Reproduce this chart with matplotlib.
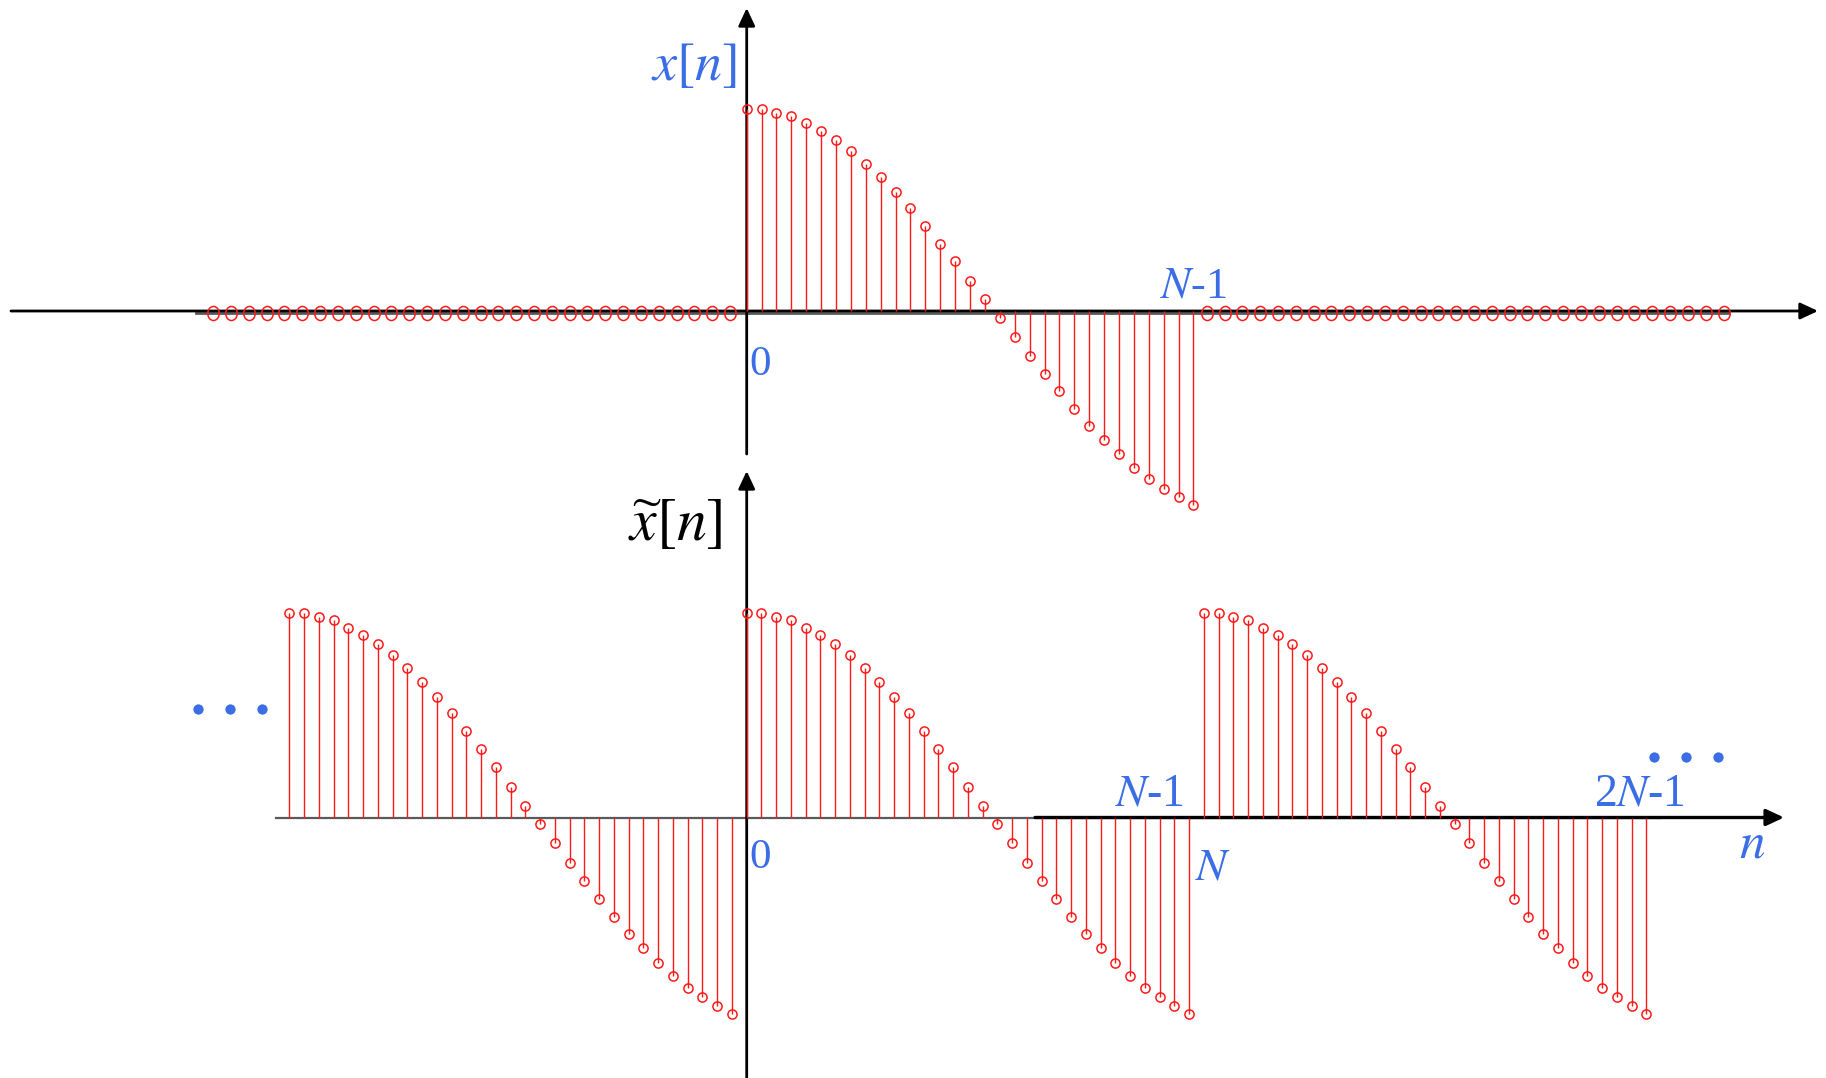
import numpy as np
import matplotlib
matplotlib.use("Agg")
import matplotlib.pyplot as plt
from matplotlib.transforms import blended_transform_factory, offset_copy, Affine2D
from matplotlib.markers import MarkerStyle

# ---- signal data -------------------------------------------------------
N = 31
n_main = np.arange(N)                       # n = 0 .. N-1
x_main = [1.000, 1.000, 0.982, 0.965, 0.929, 0.893, 0.847, 0.794, 0.729,
          0.663, 0.587, 0.510, 0.421, 0.333, 0.246, 0.150, 0.058, -0.033,
          -0.127, -0.221, -0.310, -0.398, -0.487, -0.568, -0.640, -0.710,
          -0.776, -0.833, -0.880, -0.922, -0.959]
n_zero_left = np.arange(-30, 0)             # zero samples before the window
n_zero_right = np.arange(31, 61)            # zero samples after the window
zero_vals = np.zeros(30)

# periodic extension over n = -N .. 2N-1
n_periodic = np.arange(-N, 2 * N)
x_periodic = np.tile(x_main, 3)

# text
lbl_top = r"$x[n]$"
lbl_bottom = r"$\widetilde{x}[n]$"
lbl_zero = "0"
lbl_nm1 = r"$N$-1"
lbl_n = r"$N$"
lbl_2nm1 = r"2$N$-1"
lbl_axis = r"$n$"

# ---- style ---------------------------------------------------------------
RED = "#ff1a1a"
BLUE = "#3a6de6"
GRAY = "#5a5a5a"

plt.rcParams["font.family"] = ["Liberation Serif", "DejaVu Serif"]
plt.rcParams["mathtext.fontset"] = "stix"

W, H = 1826, 1078
fig = plt.figure(figsize=(W / 100, H / 100), dpi=100)


def canvas_axes(x0, dx, y0, dy):
    """Full-figure axes where n=0 sits at pixel column x0 (step dx) and
    value 0 sits at pixel row y0 (value 1 is dy pixels higher)."""
    ax = fig.add_axes([0, 0, 1, 1])
    ax.set_xlim(-x0 / dx, (W - x0) / dx)
    ax.set_ylim(-(H - y0) / dy, y0 / dy)
    ax.set_axis_off()
    return ax


def stems(ax, n, v, ms=6.6, marker="o"):
    ml, sl, bl = ax.stem(n, v, linefmt="-", markerfmt="o", basefmt=" ")
    sl.set_color(RED)
    sl.set_linewidth(1.0)
    sl.set_zorder(3)
    ml.set_marker(marker)
    ml.set_markerfacecolor("none")
    ml.set_markeredgecolor(RED)
    ml.set_markersize(ms)
    ml.set_markeredgewidth(1.1)
    ml.set_zorder(4)
    bl.set_visible(False)


ARROW = dict(arrowstyle="-|>,head_length=0.6,head_width=0.28",
             mutation_scale=18, color="black", shrinkA=0, shrinkB=0)


def hx(px):
    return px / W


def vy(px):
    return 1 - px / H


# ---- top panel: finite-length x[n] --------------------------------------
ax1 = canvas_axes(746.7, 14.89, 311, 202)
hb1 = blended_transform_factory(ax1.transAxes, ax1.transData)
vb1 = blended_transform_factory(ax1.transData, ax1.transAxes)

ax1.plot([hx(196), hx(1729)], [0, 0], color=GRAY, lw=2.0, zorder=1,
         transform=offset_copy(hb1, fig, y=-1.5, units="dots"))
ax1.annotate("", xy=(hx(1818), 0), xytext=(hx(11), 0),
             xycoords=hb1, textcoords=hb1,
             arrowprops=dict(ARROW, lw=2.0), zorder=2)
ax1.annotate("", xy=(0, vy(8)), xytext=(0, vy(454)),
             xycoords=vb1, textcoords=vb1,
             arrowprops=dict(ARROW, lw=2.0), zorder=2)
stems(ax1, n_main, x_main)

# zero runs drawn with their own, slightly wider sample spacing
ell = MarkerStyle("o", transform=Affine2D().scale(0.9, 1.1))
axL = canvas_axes(747.8, 17.82, 313, 202)
stems(axL, n_zero_left, zero_vals, ms=9.2, marker=ell)
axR = canvas_axes(654.3, 17.82, 313, 202)
stems(axR, n_zero_right, zero_vals, ms=9.2, marker=ell)

# ---- bottom panel: periodic extension ------------------------------------
ax2 = canvas_axes(746.7, 14.75, 817.5, 204.5)
hb2 = blended_transform_factory(ax2.transAxes, ax2.transData)
vb2 = blended_transform_factory(ax2.transData, ax2.transAxes)

ax2.plot([hx(276), hx(1660)], [0, 0], color=GRAY, lw=1.6, zorder=1,
         transform=hb2)
ax2.annotate("", xy=(hx(1784), 0), xytext=(hx(1035), 0),
             xycoords=hb2, textcoords=hb2,
             arrowprops=dict(ARROW, lw=2.4), zorder=2)
ax2.annotate("", xy=(0, vy(471)), xytext=(0, vy(1078)),
             xycoords=vb2, textcoords=vb2,
             arrowprops=dict(ARROW, lw=2.0), zorder=2)
stems(ax2, n_periodic, x_periodic)

# continuation dots
for xs, y in (([198, 230, 262], 709), ([1654, 1686, 1718], 757)):
    fig.lines.append(plt.Line2D([hx(v) for v in xs], [vy(y)] * 3,
                                transform=fig.transFigure, ls="none",
                                marker="o", ms=7.4, color=BLUE, mew=0))


# ---- labels ----------------------------------------------------------------
def label(xc, y, s, size, color=BLUE):
    fig.text(hx(xc), vy(y), s, fontsize=size, color=color,
             ha="center", va="baseline")


label(694, 80, lbl_top, 39)
label(675, 541, lbl_bottom, 43, color="black")
label(760, 375, lbl_zero, 31)
label(1193, 297, lbl_nm1, 32)
label(760, 868, lbl_zero, 31)
label(1149, 806, lbl_nm1, 33)
label(1213, 879, lbl_n, 33)
label(1639, 806, lbl_2nm1, 33)
label(1752, 857, lbl_axis, 37)

fig.savefig("out.png", dpi=100, facecolor="white")
